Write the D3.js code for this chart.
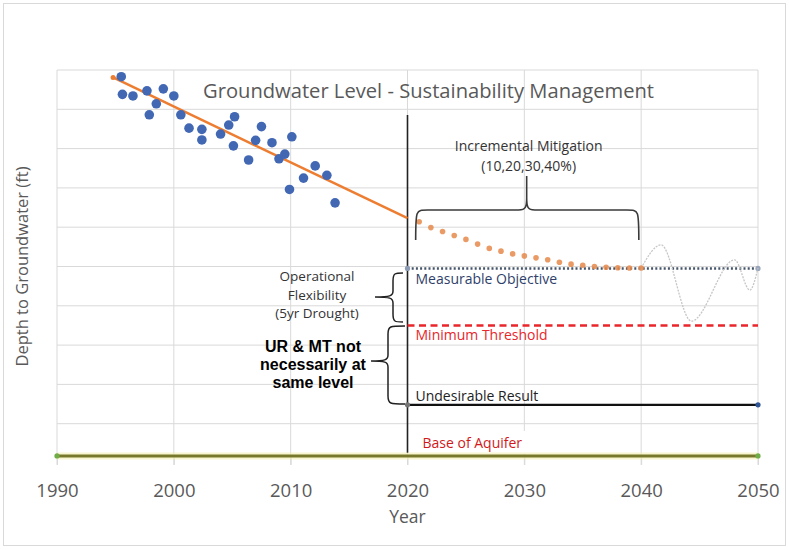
<!DOCTYPE html>
<html><head><meta charset="utf-8">
<script src="https://cdn.jsdelivr.net/npm/d3@7"></script>
<style>body{margin:0;background:#fff}svg{display:block}text{font-family:"Open Sans",sans-serif}</style>
</head><body><svg id="c" width="789" height="550"></svg>
<script>
// ---- data ----
const xTicks = [1990, 2000, 2010, 2020, 2030, 2040, 2050];
const depthGrid = [0, 10, 20, 30, 40, 50, 60, 70, 80, 90];
const scatterYears = [1995.5,1995.6,1996.5,1997.7,1997.9,1998.5,1999.1,2000.0,2000.6,2001.3,2002.4,2002.4,2004.0,2004.7,2005.2,2005.1,2006.4,2007.0,2007.5,2008.4,2009.0,2009.5,2010.1,2009.9,2011.1,2012.1,2013.1,2013.8];
const scatterDepths = [1.7,6.2,6.6,5.3,11.4,8.6,4.8,6.6,11.4,14.8,15.1,17.8,16.3,14.0,11.9,19.3,22.9,17.9,14.4,18.5,22.6,21.4,17.0,30.4,27.5,24.4,26.8,33.8];
const trendYears = [1994.8, 2020];
const trendDepths = [1.9, 37.7];
const projYears = [2021,2022,2023,2024,2025,2026,2027,2028,2029,2030,2031,2032,2033,2034,2035,2036,2037,2038,2039,2040];
const projDepths = [38.6,40.1,41.1,42.1,43.1,44.3,45.4,46.1,46.8,47.3,47.8,48.3,48.9,49.4,49.7,50.0,50.2,50.3,50.4,50.4];
const waveYears = [2040, 2041.7, 2044.3, 2048.0, 2049.3, 2050];
const waveDepths = [50.4, 44.5, 63.9, 48.3, 56.0, 50.4];
const levelNames = ["Measurable Objective", "Minimum Threshold", "Undesirable Result", "Base of Aquifer"];
const levelDepths = [50.5, 65.0, 85.2, 98.2];
const levelStart = [2020, 2020, 2020, 1990];
const levelEnd = 2050;
const mitigationLabel = ["Incremental Mitigation", "(10,20,30,40%)"];
const opFlexLabel = ["Operational", "Flexibility", "(5yr Drought)"];
const urMtLabel = ["UR & MT not", "necessarily at", "same level"];

// ---- chart ----
const svg = d3.select("#c");
const x = d3.scaleLinear().domain([1990, 2050]).range([57, 758]);
const y = d3.scaleLinear().domain([0, 100]).range([70, 463]);
const gray = "#595959";

svg.append("rect").attr("x", 3.5).attr("y", 3.5).attr("width", 782).attr("height", 542)
  .attr("fill", "#fff").attr("stroke", "#d9d9d9");

// gridlines
svg.append("g").selectAll("line").data(depthGrid).join("line")
  .attr("x1", x(1990)).attr("x2", x(2050)).attr("y1", d => y(d)).attr("y2", d => y(d))
  .attr("stroke", "#d9d9d9").attr("stroke-width", 1);
svg.append("g").selectAll("line").data(xTicks).join("line")
  .attr("x1", d => x(d)).attr("x2", d => x(d)).attr("y1", y(0)).attr("y2", y(levelDepths[3]) + 9)
  .attr("stroke", "#d9d9d9").attr("stroke-width", 1);

// x axis
const ax = svg.append("g").attr("transform", `translate(0,${y(levelDepths[3])})`)
  .call(d3.axisBottom(x).tickValues(xTicks).tickFormat(d3.format("d")).tickSize(9).tickPadding(19));
ax.select(".domain").remove();
ax.selectAll(".tick line").attr("stroke", "#d9d9d9");
ax.selectAll(".tick text").attr("fill", gray).style("font-size", "18.5px").style("font-family", "'Open Sans',sans-serif");

svg.append("text").attr("x", x(2020)).attr("y", 523).attr("text-anchor", "middle")
  .attr("fill", gray).style("font-size", "17.5px").text("Year");
svg.append("text").attr("transform", `translate(28,${y(50)}) rotate(-90)`).attr("text-anchor", "middle")
  .attr("fill", gray).style("font-size", "16.5px").text("Depth to Groundwater (ft)");

// title
svg.append("text").attr("x", 203).attr("y", 98).attr("textLength", 451).attr("lengthAdjust", "spacingAndGlyphs")
  .attr("fill", gray).style("font-size", "19.5px").text("Groundwater Level - Sustainability Management");

// base of aquifer label box
svg.append("rect").attr("x", x(2020) + 3).attr("y", y(levelDepths[3]) - 25).attr("width", 186).attr("height", 23).attr("fill", "#fff");

// vertical 2020 line
svg.append("line").attr("x1", x(2020)).attr("x2", x(2020)).attr("y1", 115).attr("y2", y(levelDepths[3]) - 3)
  .attr("stroke", "#222").attr("stroke-width", 1.6);

// level lines
const line = d3.line().x(d => x(d[0])).y(d => y(d[1]));
const levelStyles = [
  {stroke: "#44546a", w: 2.5, dash: "2,2.2"},
  {stroke: "#e8262b", w: 2.5, dash: "7,4.5"},
  {stroke: "#111", w: 2.2, dash: null},
  {stroke: "#78782c", w: 3, dash: null}
];
levelDepths.forEach((d, i) => {
  const s = levelStyles[i];
  if (i === 3) {
    svg.append("path").attr("d", line([[levelStart[i], d], [levelEnd, d]])).attr("stroke", "#f3f0b0").attr("stroke-width", 7).attr("fill", "none").attr("opacity", 0.6);
  }
  svg.append("path").attr("d", line([[levelStart[i], d], [levelEnd, d]]))
    .attr("fill", "none").attr("stroke", s.stroke).attr("stroke-width", s.w)
    .attr("stroke-dasharray", s.dash);
});
// end markers
const endMarks = [[2020, levelDepths[0], "#8c9ab3"], [2050, levelDepths[0], "#9aa6bb"], [2020, levelDepths[2], "#777"], [2050, levelDepths[2], "#2f5597"], [1990, levelDepths[3], "#70ad47"], [2050, levelDepths[3], "#70ad47"]];
svg.append("g").selectAll("circle").data(endMarks).join("circle")
  .attr("cx", d => x(d[0])).attr("cy", d => y(d[1])).attr("r", 2.6).attr("fill", d => d[2]);

// wave
svg.append("path").attr("d", d3.line().x((d, i) => x(waveYears[i])).y(d => y(d)).curve(d3.curveMonotoneX)(waveDepths))
  .attr("fill", "none").attr("stroke", "#c6c6c6").attr("stroke-width", 1.3).attr("stroke-dasharray", "2,1.2");

// trend
svg.append("path").attr("d", d3.line().x((d, i) => x(trendYears[i])).y(d => y(d))(trendDepths))
  .attr("fill", "none").attr("stroke", "#ed7d31").attr("stroke-width", 2.5);
svg.append("circle").attr("cx", x(trendYears[0])).attr("cy", y(trendDepths[0])).attr("r", 2.5).attr("fill", "#ed7d31");
// projection dots
svg.append("g").selectAll("circle").data(projDepths).join("circle")
  .attr("cx", (d, i) => x(projYears[i])).attr("cy", d => y(d)).attr("r", 2.8).attr("fill", "#e68a4a").attr("opacity", 0.85);

// scatter
svg.append("g").selectAll("circle").data(scatterDepths).join("circle")
  .attr("cx", (d, i) => x(scatterYears[i])).attr("cy", d => y(d)).attr("r", 4.8).attr("fill", "#4268b4");

// labels for levels
const lblColors = ["#2f3f6b", "#e8262b", "#222", "#d01a1a"];
const lblOff = [16, 15, -4, -8];
levelNames.forEach((n, i) => {
  svg.append("text").attr("x", x(2020) + (i === 3 ? 15 : 8)).attr("y", y(levelDepths[i]) + lblOff[i])
    .attr("fill", lblColors[i]).style("font-size", "14px").text(n);
});

// mitigation brace (horizontal)
const bx1 = x(2020.7), bx2 = x(2039.8), bm = x(2030.2), bTop = 210, bTip = 240, bPeak = 176;
svg.append("path").attr("d",
  `M${bx1},${bTip} C${bx1},${bTop} ${bx1},${bTop} ${bx1 + 12},${bTop} L${bm - 8},${bTop} C${bm - 1},${bTop} ${bm},${bTop - 3} ${bm},${bTop - 12} L${bm},${bPeak} ` +
  `M${bm},${bTop - 12} C${bm},${bTop - 3} ${bm + 1},${bTop} ${bm + 8},${bTop} L${bx2 - 12},${bTop} C${bx2},${bTop} ${bx2},${bTop} ${bx2},${bTip}`)
  .attr("fill", "none").attr("stroke", "#3a3a3a").attr("stroke-width", 1.6);
mitigationLabel.forEach((t, i) => svg.append("text").attr("x", bm + 2).attr("y", 151 + i * 20).attr("text-anchor", "middle")
  .attr("fill", "#333").style("font-size", "14px").text(t));

// vertical braces
function vbrace(xr, xv, xp, yt, yb, ym) {
  return `M${xr},${yt} C${xv + 2},${yt} ${xv},${yt} ${xv},${yt + 8} L${xv},${ym - 6} C${xv},${ym - 1} ${xv - 3},${ym} ${xp},${ym} ` +
    `M${xp},${ym} C${xv - 3},${ym} ${xv},${ym + 1} ${xv},${ym + 6} L${xv},${yb - 8} C${xv},${yb} ${xv + 2},${yb} ${xr},${yb}`;
}
svg.append("path").attr("d", vbrace(403, 393, 375, 273, 322, 297)).attr("fill", "none").attr("stroke", "#222").attr("stroke-width", 1.5);
svg.append("path").attr("d", vbrace(405, 388, 371, 326, 404, 361)).attr("fill", "none").attr("stroke", "#222").attr("stroke-width", 1.5);
opFlexLabel.forEach((t, i) => svg.append("text").attr("x", 317).attr("y", 281 + i * 18.5).attr("text-anchor", "middle")
  .attr("fill", "#333").style("font-size", "13.5px").text(t));
urMtLabel.forEach((t, i) => svg.append("text").attr("x", 313).attr("y", 352 + i * 18).attr("text-anchor", "middle")
  .attr("fill", "#000").style("font-size", "16px").style("font-weight", "bold").style("font-family", "'Liberation Sans',Arial,sans-serif").text(t));
</script></body></html>
